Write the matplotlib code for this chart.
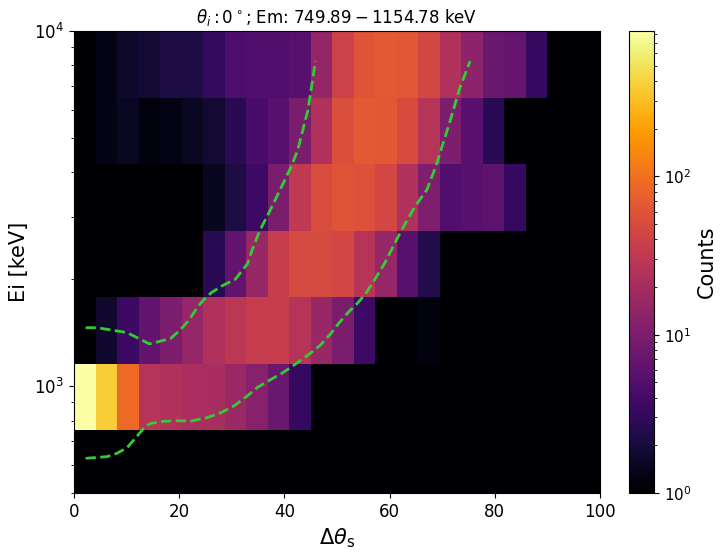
import matplotlib
matplotlib.use("Agg")
import matplotlib.pyplot as plt
from matplotlib.colors import LogNorm
import numpy as np

# histogram binning
theta_width = 180.0 / 44
n_theta = 25
e_low, e_high = 749.89, 1.0e4
n_e_above = 6

# counts per row, bottom (lowest Ei) to top, one value per theta bin
counts_row0 = [0] * 25
counts_row1 = [830, 370, 88, 26, 23.5, 22, 21, 16.5, 12, 7.4, 3.2, 0, 0, 0, 0, 0, 0, 0, 0, 0, 0, 0, 0, 0, 0]
counts_row2 = [0, 1.7, 3.5, 6.5, 10, 15, 23.5, 29, 35, 35, 26, 16, 9.8, 3.6, 0, 0, 1.2, 0, 0, 0, 0, 0, 0, 0, 0]
counts_row3 = [0, 0, 0, 0, 0, 0, 2.6, 6.5, 16, 35, 48, 48, 44, 26, 15, 5.4, 2.4, 0, 0, 0, 0, 0, 0, 0, 0]
counts_row4 = [0, 0, 0, 0, 0, 0, 1.45, 2.2, 3.6, 9.8, 31, 51, 60, 56, 44, 23.5, 10.5, 4.9, 5.5, 6.1, 3.2, 0, 0, 0, 0]
counts_row5 = [0, 1.3, 1.5, 1.2, 1.3, 1.5, 1.8, 2.6, 4.4, 5.4, 9.8, 23.5, 53, 66, 65, 50, 26, 10, 5.6, 2.7, 0, 0, 0, 0, 0]
counts_row6 = [0, 1.3, 1.65, 1.8, 2.2, 2.2, 3.1, 4.7, 4.9, 4.9, 5.4, 14.7, 40, 60, 66, 62, 46, 23.5, 13.3, 7.5, 6.8, 3.2, 0, 0, 0]

# green reference curves (delta theta, Ei in keV)
lo_theta = [2.2, 6.3, 8.2, 10.1, 12.0, 13.6, 14.6, 17.1, 19.6, 22.2, 25.3, 27.9, 30.4, 32.9,
            34.8, 38.0, 39.2, 41.7, 44.2, 46.8, 48.7, 50.2, 52.1, 54.0, 55.6, 57.2, 59.1,
            62.2, 64.8, 67.1, 68.7, 71.4, 73.3, 75.3]
lo_energy = [626, 633, 647, 671, 723, 772, 785, 796, 799, 797, 815, 841, 879, 937,
             990, 1056, 1079, 1142, 1214, 1302, 1399, 1494, 1611, 1718, 1834, 1999, 2224,
             2737, 3199, 3576, 4122, 5508, 6882, 8223]
hi_theta = [2.2, 4.4, 7.6, 10.1, 12.7, 14.3, 16.5, 18.4, 20.3, 21.9, 23.4, 24.7, 26.1, 28.1,
            30.7, 33.0, 34.0, 35.3, 37.3, 39.2, 41.2, 42.5, 44.5, 45.1, 45.9]
hi_energy = [1460, 1460, 1435, 1414, 1353, 1315, 1339, 1363, 1445, 1537, 1662, 1753, 1832, 1914,
             2001, 2213, 2448, 2737, 3128, 3576, 4122, 4601, 6012, 6882, 8230]

counts = np.array([counts_row0, counts_row1, counts_row2, counts_row3,
                   counts_row4, counts_row5, counts_row6], dtype=float)
theta_edges = np.arange(n_theta + 1) * theta_width
ratio = (e_high / e_low) ** (1.0 / n_e_above)
e_edges = e_low * ratio ** np.arange(-1, n_e_above + 1)

cmap = plt.get_cmap("inferno").copy()
cmap.set_bad(cmap(0.0))

fig = plt.figure(figsize=(7.22, 5.56), dpi=100)
ax = fig.add_axes([74 / 722, 63 / 556, 526 / 722, 462 / 556])
cax = fig.add_axes([629 / 722, 63 / 556, 25 / 722, 462 / 556])

mesh = ax.pcolormesh(theta_edges, e_edges, np.ma.masked_less_equal(counts, 0),
                     cmap=cmap, norm=LogNorm(vmin=1, vmax=counts.max()))
ax.plot(lo_theta, lo_energy, "--", color="limegreen", lw=2)
ax.plot(hi_theta, hi_energy, "--", color="limegreen", lw=2)

ax.set_yscale("log")
ax.set_xlim(0, 100)
ax.set_ylim(500, 1e4)
ax.tick_params(labelsize=12)
ax.set_xlabel(r"$\Delta\theta_{\rm s}$", fontsize=15)
ax.set_ylabel("Ei [keV]", fontsize=15)
ax.set_title(r"$\theta_i: 0^\circ$; Em: $749.89 - 1154.78$ keV", fontsize=12)

cbar = fig.colorbar(mesh, cax=cax)
cbar.set_label("Counts", fontsize=15)
cbar.ax.tick_params(labelsize=11)

fig.savefig("out.png", dpi=100)
